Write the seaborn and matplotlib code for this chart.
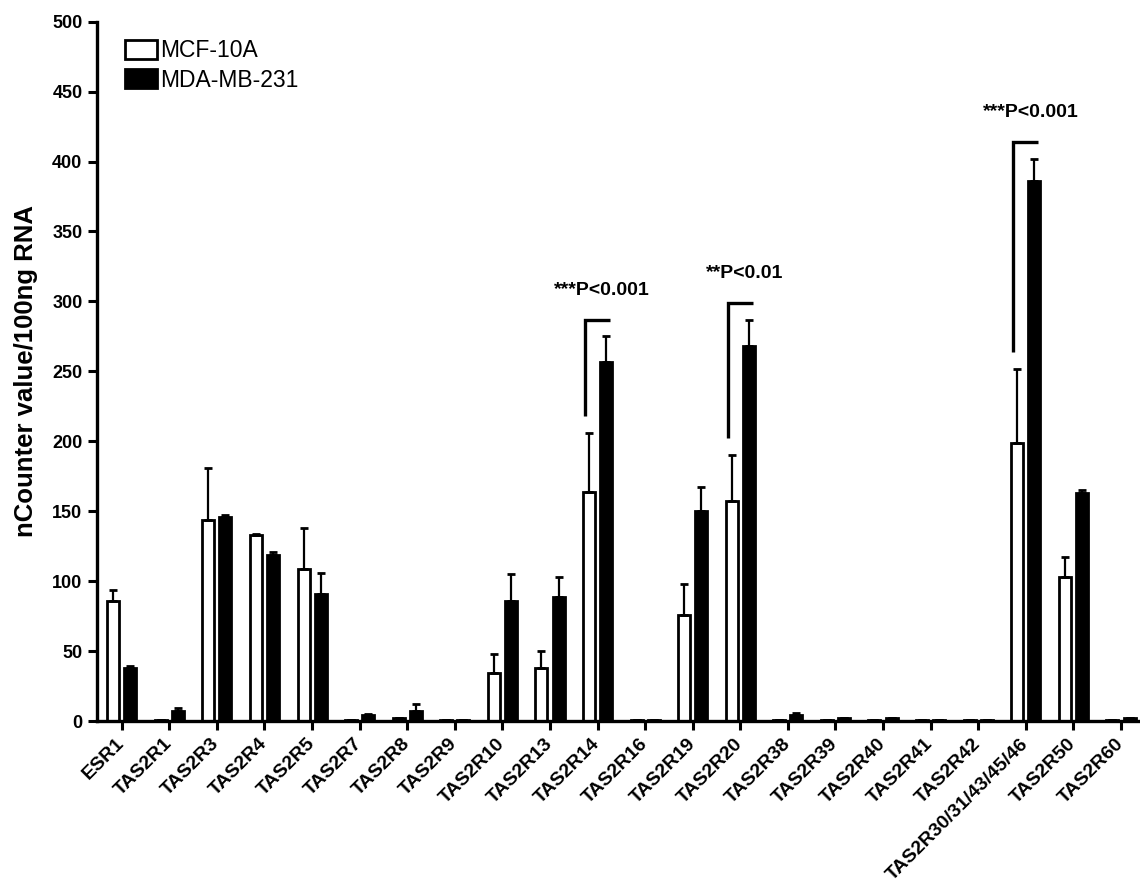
import numpy as np
import pandas as pd
import matplotlib
matplotlib.use("Agg")
import matplotlib.pyplot as plt
import seaborn as sns

categories = ["ESR1", "TAS2R1", "TAS2R3", "TAS2R4", "TAS2R5", "TAS2R7", "TAS2R8",
              "TAS2R9", "TAS2R10", "TAS2R13", "TAS2R14", "TAS2R16", "TAS2R19",
              "TAS2R20", "TAS2R38", "TAS2R39", "TAS2R40", "TAS2R41", "TAS2R42",
              "TAS2R30/31/43/45/46", "TAS2R50", "TAS2R60"]
mcf_mean = [86, 1, 144, 133, 109, 1, 2, 1, 34, 38, 164, 1, 76, 157, 1, 1, 1, 1, 1, 199, 103, 1]
mcf_sem = [8, 0, 37, 0.5, 29, 0, 0.5, 0, 14, 12, 42, 0, 22, 33, 0, 0, 0, 0, 0, 53, 14, 0]
mda_mean = [38, 7, 146, 119, 91, 4, 7, 1, 86, 89, 257, 1, 150, 268, 4, 2, 2, 1, 1, 386, 163, 2]
mda_sem = [1.5, 2, 1, 2, 15, 1, 5, 0, 19, 14, 18, 0, 17, 19, 2, 0.5, 0.5, 0, 0, 16, 2, 0.5]
groups = ["MCF-10A", "MDA-MB-231"]
yticks = [0, 50, 100, 150, 200, 250, 300, 350, 400, 450, 500]
annot_cats = ["TAS2R14", "TAS2R20", "TAS2R30/31/43/45/46"]
annot_text = ["***P<0.001", "**P<0.01", "***P<0.001"]

df = pd.DataFrame({
    "gene": categories * 2,
    "group": [groups[0]] * len(categories) + [groups[1]] * len(categories),
    "value": mcf_mean + mda_mean,
})

sns.set_style("ticks")
plt.rcParams["font.family"] = ["Liberation Sans", "DejaVu Sans"]
plt.rcParams.update({"text.color": "black", "axes.labelcolor": "black",
                     "xtick.color": "black", "ytick.color": "black",
                     "axes.edgecolor": "black"})

fig = plt.figure(figsize=(11.4, 8.83), dpi=100)
ax = fig.add_axes([97 / 1140, 162 / 883, 1 - 97 / 1140, (721 - 21.7) / 883])

sns.barplot(data=df, x="gene", y="value", hue="group", order=categories,
            hue_order=groups, palette={groups[0]: "white", groups[1]: "black"},
            edgecolor="black", linewidth=2.0, width=0.72, gap=0.3,
            errorbar=None, ax=ax, legend=True)

means = [mcf_mean, mda_mean]
sems = [mcf_sem, mda_sem]
centers = []
for k, cont in enumerate(ax.containers[:2]):
    xs = np.array([b.get_x() + b.get_width() / 2 for b in cont])
    centers.append(xs)
    m = np.array(means[k], dtype=float)
    s = np.array(sems[k], dtype=float)
    ax.errorbar(xs, m, yerr=[np.zeros_like(s), s], fmt="none", ecolor="black",
                elinewidth=1.6, capsize=3.2, capthick=2.0, zorder=1)

# significance brackets
for cat, txt in zip(annot_cats, annot_text):
    i = categories.index(cat)
    x0 = centers[0][i] - 0.08
    x1 = x0 + 0.52
    ybot = mcf_mean[i] + mcf_sem[i] + 12
    ytop = mda_mean[i] + mda_sem[i] + 12
    ax.plot([x0, x0, x1], [ybot, ytop, ytop], color="black", lw=2.4,
            solid_capstyle="butt", solid_joinstyle="miter", clip_on=False)
    ax.text(i + 0.1, ytop + 21, txt, ha="center", va="center",
            fontsize=14, fontweight="bold")

ax.set_ylim(0, 500)
ax.set_xlim(-0.52, 21.4)
ax.set_yticks(yticks)
ax.set_yticklabels([str(t) for t in yticks], fontsize=13, fontweight="bold")
ax.set_xticks(range(len(categories)))
ax.set_xticklabels(categories, rotation=45, ha="right", va="center",
                   rotation_mode="anchor", fontsize=14, fontweight="bold")
ax.tick_params(axis="both", width=2.2, length=6.5, color="black")
ax.tick_params(axis="x", pad=8)
ax.tick_params(axis="y", pad=4)
ax.set_xlabel("")
ax.set_ylabel("nCounter value/100ng RNA", fontsize=18.5, fontweight="bold", labelpad=10)
for side in ["top", "right"]:
    ax.spines[side].set_visible(False)
for side in ["left", "bottom"]:
    ax.spines[side].set_linewidth(2.4)
    ax.spines[side].set_color("black")

handles, labels = ax.get_legend_handles_labels()
if ax.get_legend() is not None:
    ax.get_legend().remove()
leg = ax.legend(handles, labels, loc="upper left",
                bbox_to_anchor=(125 / 1140, 1 - 39 / 883), bbox_transform=fig.transFigure,
                frameon=False, fontsize=16.5, handlelength=1.4, handleheight=0.9,
                handletextpad=0.15, labelspacing=0.3, borderpad=0, borderaxespad=0)
for h in leg.legend_handles:
    h.set_edgecolor("black")
    h.set_linewidth(2.0)

fig.savefig("out.png", dpi=100)
